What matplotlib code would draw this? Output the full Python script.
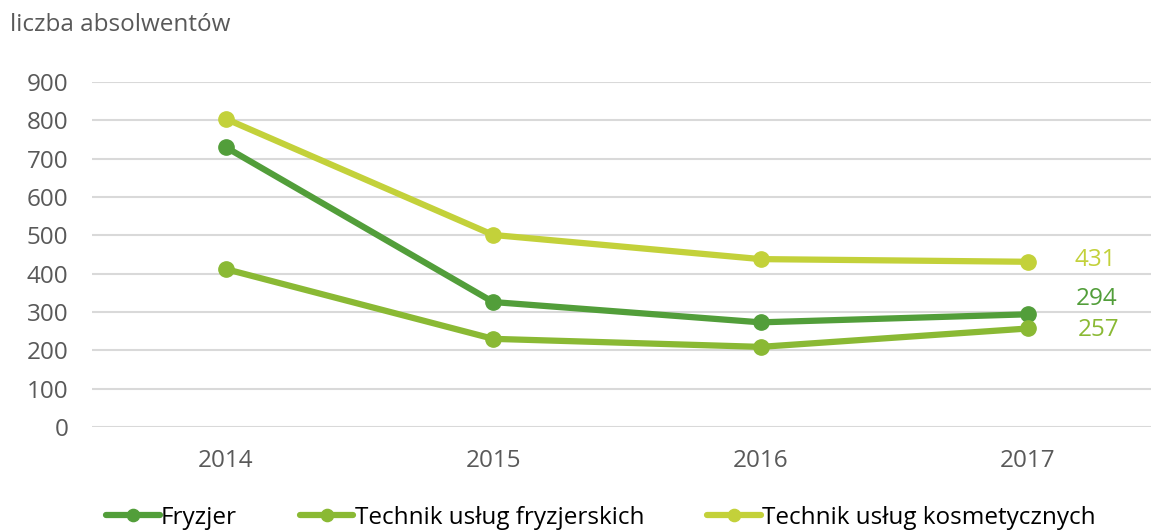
import matplotlib
matplotlib.use("Agg")
import matplotlib.pyplot as plt

plt.rcParams['font.family'] = ['Open Sans', 'DejaVu Sans']

years = ["2014", "2015", "2016", "2017"]
fryzjer = [730, 326, 273, 294]
technik_fryz = [412, 230, 209, 257]
technik_kosm = [804, 501, 438, 431]
labels = ["Fryzjer", "Technik usług fryzjerskich", "Technik usług kosmetycznych"]
colors = ["#529E3A", "#8AB934", "#C3D13A"]
yticks = [0, 100, 200, 300, 400, 500, 600, 700, 800, 900]

fig = plt.figure(figsize=(11.51, 5.31), dpi=100)
ax = fig.add_axes([92/1151, 1-427/531, (1151-92)/1151, (427-82)/531])

x = list(range(len(years)))
series = [fryzjer, technik_fryz, technik_kosm]
for vals, lab, c in zip(series, labels, colors):
    ax.plot(x, vals, color=c, lw=4.5, marker='o', ms=11, label=lab, solid_capstyle='round')

ax.set_ylim(0, 900)
ax.set_xlim(-0.5, 3.46)
ax.set_yticks(yticks)
ax.set_xticks(x)
ax.set_xticklabels(years)
ax.tick_params(axis='both', length=0, labelsize=17.5, colors='#595959')
ax.tick_params(axis='x', pad=16)
ax.tick_params(axis='y', pad=17)
ax.grid(axis='y', color='#D9D9D9', lw=1.5)
ax.set_axisbelow(True)
for s in ax.spines.values():
    s.set_visible(False)

ax.annotate(str(technik_kosm[-1]), (3, technik_kosm[-1]), xytext=(3.25, technik_kosm[-1] + 5),
            textcoords='data', color=colors[2], fontsize=17.5, ha='center', va='center')
ax.annotate(str(fryzjer[-1]), (3, fryzjer[-1]), xytext=(3.255, fryzjer[-1] + 40),
            textcoords='data', color=colors[0], fontsize=17.5, ha='center', va='center')
ax.annotate(str(technik_fryz[-1]), (3, technik_fryz[-1]), xytext=(3.265, technik_fryz[-1] - 5),
            textcoords='data', color=colors[1], fontsize=17.5, ha='center', va='center')

fig.text(10/1151, 1-25/531, "liczba absolwentów", fontsize=17.5, color='#595959', va='center', ha='left')

leg = fig.legend(loc='center', bbox_to_anchor=(0.522, 1-518/531), ncol=3, frameon=False,
                 fontsize=17.5, handlelength=2.2, handletextpad=0.05, columnspacing=2.6,
                 markerscale=0.8)
for t in leg.get_texts():
    t.set_color('#000000')

fig.savefig("out.png", dpi=100, facecolor='white')
